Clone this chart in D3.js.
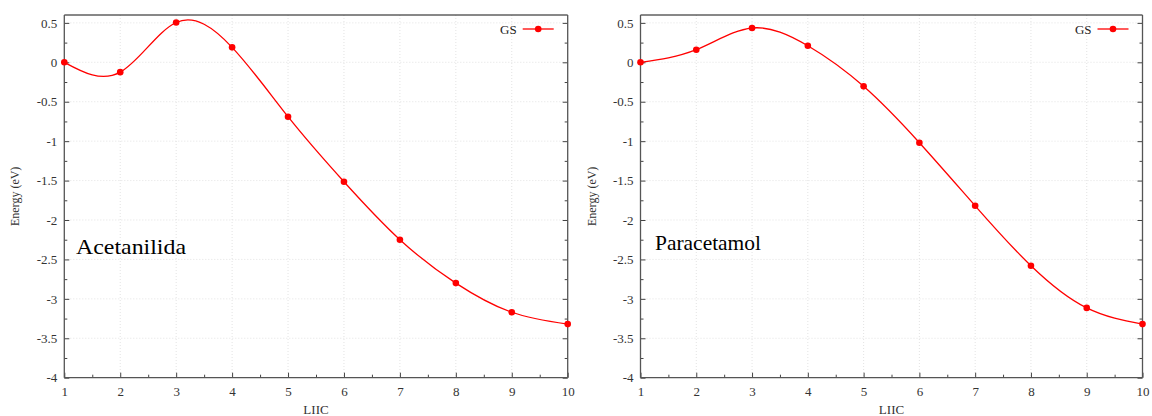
<!DOCTYPE html>
<html><head><meta charset="utf-8">
<script src="https://cdn.jsdelivr.net/npm/d3@7"></script>
<style>body{margin:0;background:#fff}svg{display:block}</style>
</head><body>
<svg id="c" width="1152" height="416"></svg>
<script>
const liic = [1,2,3,4,5,6,7,8,9,10];
const acetanilida = [0,-0.125,0.505,0.19,-0.69,-1.515,-2.25,-2.80,-3.17,-3.32];
const paracetamol = [0,0.16,0.435,0.21,-0.305,-1.02,-1.82,-2.58,-3.115,-3.32];
const yTicks = [0.5,0,-0.5,-1,-1.5,-2,-2.5,-3,-3.5,-4];
const xTicks = [1,2,3,4,5,6,7,8,9,10];
const seriesName = "GS";
const xTitle = "LIIC", yTitle = "Energy (eV)";

const svg = d3.select("#c");
const font = "Liberation Serif, DejaVu Serif, Times New Roman, serif";
const red = "#f00";

function panel(left, right, label, values, labelPos, labelLen){
  const top = 15, bottom = 377.7;
  const x = d3.scaleLinear().domain([1,10]).range([left,right]);
  const y = d3.scaleLinear().domain([-4,0.6]).range([bottom,top]);
  const g = svg.append("g");
  g.selectAll(".gx").data(xTicks.slice(1,-1)).join("line")
    .attr("x1",d=>x(d)).attr("x2",d=>x(d)).attr("y1",top).attr("y2",bottom)
    .attr("stroke","#dcdcdc").attr("stroke-width",0.8).attr("stroke-dasharray","1,2");
  g.selectAll(".gy").data(yTicks.slice(0,-1)).join("line")
    .attr("x1",left).attr("x2",right).attr("y1",d=>y(d)).attr("y2",d=>y(d))
    .attr("stroke","#dcdcdc").attr("stroke-width",0.8).attr("stroke-dasharray","1,2");
  const ax = d3.axisBottom(x).tickValues(xTicks).tickSize(-5).tickPadding(9).tickFormat(d3.format("d"));
  const axMinor = d3.axisBottom(x).tickValues(d3.range(1.5,10,1)).tickSize(-3).tickFormat("");
  const ay = d3.axisLeft(y).tickValues(yTicks).tickSize(-5).tickPadding(7).tickFormat(d=>String(d));
  const ayMinor = d3.axisLeft(y).tickValues(d3.range(-3.75,0.6,0.5)).tickSize(-3).tickFormat("");
  const ayR = d3.axisRight(y).tickValues(yTicks).tickSize(-5).tickFormat("");
  const ayRMinor = d3.axisRight(y).tickValues(d3.range(-3.75,0.6,0.5)).tickSize(-3).tickFormat("");
  function style(sel){
    sel.select(".domain").remove();
    sel.selectAll("line").attr("stroke","#444");
    sel.selectAll("text").attr("font-family",font).attr("font-size",13).attr("fill","#333");
  }
  g.append("g").attr("transform",`translate(0,${bottom})`).call(ax).call(style);
  g.append("g").attr("transform",`translate(0,${bottom})`).call(axMinor).call(style);
  g.append("g").attr("transform",`translate(${left},0)`).call(ay).call(style);
  g.append("g").attr("transform",`translate(${left},0)`).call(ayMinor).call(style);
  g.append("g").attr("transform",`translate(${right},0)`).call(ayR).call(style);
  g.append("g").attr("transform",`translate(${right},0)`).call(ayRMinor).call(style);
  g.append("line").attr("x1",left).attr("x2",right).attr("y1",top).attr("y2",top).attr("stroke","#111").attr("stroke-width",1);
  g.append("line").attr("x1",left).attr("x2",right).attr("y1",bottom).attr("y2",bottom).attr("stroke","#555").attr("stroke-width",1.3);
  g.append("line").attr("x1",left).attr("x2",left).attr("y1",top).attr("y2",bottom).attr("stroke","#555").attr("stroke-width",1.3);
  g.append("line").attr("x1",right).attr("x2",right).attr("y1",top).attr("y2",bottom).attr("stroke","#555").attr("stroke-width",1.3);
  g.append("text").attr("x",(left+right)/2).attr("y",414).attr("text-anchor","middle")
    .attr("font-family",font).attr("font-size",13).attr("fill","#333").text(xTitle);
  g.append("text").attr("transform",`translate(${left-45},${(top+bottom)/2}) rotate(-90)`).attr("text-anchor","middle")
    .attr("font-family",font).attr("font-size",12).attr("fill","#333").text(yTitle);
  const data = liic.map((d,i)=>[d,values[i]]);
  g.append("path").datum(data).attr("fill","none").attr("stroke",red).attr("stroke-width",1.3)
    .attr("d",d3.line().x(d=>x(d[0])).y(d=>y(d[1])).curve(d3.curveNatural));
  g.selectAll(".pt").data(data).join("circle").attr("cx",d=>x(d[0])).attr("cy",d=>y(d[1])).attr("r",3.3).attr("fill",red);
  const ly = 29;
  g.append("line").attr("x1",right-45).attr("x2",right-14).attr("y1",ly).attr("y2",ly).attr("stroke",red).attr("stroke-width",1.3);
  g.append("circle").attr("cx",right-29.5).attr("cy",ly).attr("r",3.3).attr("fill",red);
  g.append("text").attr("x",right-51).attr("y",ly+4.5).attr("text-anchor","end")
    .attr("font-family",font).attr("font-size",13).attr("fill","#222").text(seriesName);
  g.append("text").attr("x",labelPos[0]).attr("y",labelPos[1]).attr("font-family",font)
    .attr("font-size",22).attr("fill","#000").attr("textLength",labelLen).attr("lengthAdjust","spacingAndGlyphs").text(label);
}
panel(64.3, 567.7, "Acetanilida", acetanilida, [76,253.5], 110);
panel(640.5, 1142.5, "Paracetamol", paracetamol, [655,250], 106);
</script>
</body></html>
